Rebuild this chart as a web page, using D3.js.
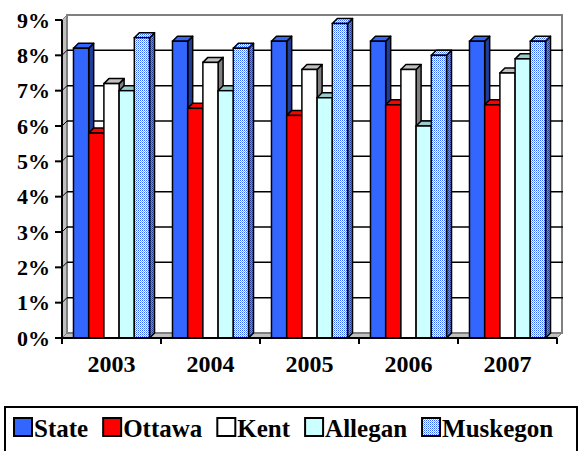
<!DOCTYPE html>
<html>
<head>
<meta charset="utf-8">
<script src="https://cdn.jsdelivr.net/npm/d3@7"></script>
<style>
  body { margin: 0; background: #fff; }
  svg { display: block; }
  text { font-family: 'Liberation Serif', 'Times New Roman', Times, 'DejaVu Serif', serif; font-weight: bold; }
</style>
</head>
<body>
<svg id="chart" width="580" height="451"></svg>
<script>
const years = ['2003', '2004', '2005', '2006', '2007'];
const seriesNames = ['State', 'Ottawa', 'Kent', 'Allegan', 'Muskegon'];
const state = [8.2, 8.4, 8.4, 8.4, 8.4];
const ottawa = [5.8, 6.5, 6.3, 6.6, 6.6];
const kent = [7.2, 7.8, 7.6, 7.6, 7.5];
const allegan = [7.0, 7.0, 6.8, 6.0, 7.9];
const muskegon = [8.5, 8.2, 8.9, 8.0, 8.4];
const yTicks = [0, 1, 2, 3, 4, 5, 6, 7, 8, 9];

const values = [state, ottawa, kent, allegan, muskegon];

// front / top / side fill per series
const looks = [
  { front: '#3366ff', top: '#3366ff', side: '#1f3d99' },
  { front: '#ff0000', top: '#ff0000', side: '#990000' },
  { front: '#ffffff', top: '#c0c0c0', side: '#808080' },
  { front: '#ccffff', top: '#99cccc', side: '#7a9999' },
  { front: 'url(#hatch)', top: 'url(#hatch)', side: 'url(#hatchDark)' }
];

const svg = d3.select('#chart');
const dx = 5, dy = 5; // 3d depth offset

const x0 = d3.scaleBand().domain(years).range([62, 557]);
const x1 = d3.scaleBand().domain(seriesNames).range([0, x0.bandwidth()]).paddingOuter(0.755);
const y = d3.scaleLinear().domain([0, 9]).range([338, 20]);

const defs = svg.append('defs');
const hatch = defs.append('pattern').attr('id', 'hatch').attr('patternUnits', 'userSpaceOnUse')
  .attr('width', 2).attr('height', 2);
hatch.append('rect').attr('width', 2).attr('height', 2).attr('fill', '#ffffff');
hatch.append('rect').attr('width', 1).attr('height', 1).attr('fill', '#3366ff');
hatch.append('rect').attr('x', 1).attr('y', 1).attr('width', 1).attr('height', 1).attr('fill', '#8aa6ff');
const hatchDark = defs.append('pattern').attr('id', 'hatchDark').attr('patternUnits', 'userSpaceOnUse')
  .attr('width', 2).attr('height', 2);
hatchDark.append('rect').attr('width', 2).attr('height', 2).attr('fill', '#8c8c9c');
hatchDark.append('rect').attr('width', 1).attr('height', 1).attr('fill', '#1f3d99');
hatchDark.append('rect').attr('x', 1).attr('y', 1).attr('width', 1).attr('height', 1).attr('fill', '#4a5a90');

svg.append('rect').attr('width', 580).attr('height', 451).attr('fill', '#fff');

const xLeft = x0.range()[0], xRight = x0.range()[1];
const yTop = y(9), base = y(0);

// floor
svg.append('polygon')
  .attr('points', [[xLeft, base], [xRight, base], [xRight + dx, base - dy], [xLeft + dx, base - dy]].join(' '))
  .attr('fill', '#c0c0c0').attr('stroke', '#808080').attr('stroke-width', 1);

// left side wall
svg.append('polygon')
  .attr('points', [[xLeft, base], [xLeft, yTop], [xLeft + dx, yTop - dy], [xLeft + dx, base - dy]].join(' '))
  .attr('fill', '#c0c0c0').attr('stroke', '#808080').attr('stroke-width', 1);

// back wall
svg.append('rect')
  .attr('x', xLeft + dx).attr('y', yTop - dy)
  .attr('width', xRight - xLeft).attr('height', base - yTop)
  .attr('fill', '#fff').attr('stroke', '#808080').attr('stroke-width', 2);

// gridlines
const grid = svg.append('g');
yTicks.filter(d => d > 0 && d < 9).forEach(d => {
  grid.append('line')
    .attr('x1', xLeft + dx).attr('x2', xRight + dx + 1)
    .attr('y1', y(d) - dy).attr('y2', y(d) - dy)
    .attr('stroke', '#000').attr('stroke-width', 1.5);
  grid.append('line')
    .attr('x1', xLeft).attr('x2', xLeft + dx)
    .attr('y1', y(d)).attr('y2', y(d) - dy)
    .attr('stroke', '#000').attr('stroke-width', 1);
});

// bars
const bars = svg.append('g');
years.forEach((yr, i) => {
  seriesNames.forEach((s, j) => {
    const v = values[j][i];
    const bx = x0(yr) + x1(s);
    const w = x1.bandwidth();
    const by = y(v);
    const look = looks[j];
    bars.append('polygon')
      .attr('points', [[bx + w, by], [bx + w + dx, by - dy], [bx + w + dx, base - dy], [bx + w, base]].join(' '))
      .attr('fill', look.side).attr('stroke', '#000').attr('stroke-width', 1.5).attr('stroke-linejoin', 'round');
    bars.append('polygon')
      .attr('points', [[bx, by], [bx + dx, by - dy], [bx + w + dx, by - dy], [bx + w, by]].join(' '))
      .attr('fill', look.top).attr('stroke', '#000').attr('stroke-width', 1.5).attr('stroke-linejoin', 'round');
    bars.append('rect')
      .attr('x', bx).attr('y', by).attr('width', w).attr('height', base - by)
      .attr('fill', look.front).attr('stroke', '#000').attr('stroke-width', 1.5);
  });
});

// axes
svg.append('line').attr('x1', xLeft).attr('x2', xLeft).attr('y1', yTop).attr('y2', base)
  .attr('stroke', '#000').attr('stroke-width', 2);
svg.append('line').attr('x1', xLeft).attr('x2', xRight).attr('y1', base).attr('y2', base)
  .attr('stroke', '#000').attr('stroke-width', 2);

const yAxis = svg.append('g');
yTicks.forEach(d => {
  yAxis.append('line').attr('x1', xLeft - 7).attr('x2', xLeft).attr('y1', y(d)).attr('y2', y(d))
    .attr('stroke', '#000').attr('stroke-width', 2);
  yAxis.append('text')
    .attr('x', 50).attr('y', y(d)).attr('dy', '0.35em')
    .attr('text-anchor', 'end')
    .attr('font-size', 22)
    .text(d + '%');
});

const xAxis = svg.append('g');
years.concat([null]).forEach(yr => {
  const xt = yr ? x0(yr) : xRight;
  xAxis.append('line').attr('x1', xt).attr('x2', xt).attr('y1', base).attr('y2', base + 6)
    .attr('stroke', '#000').attr('stroke-width', 2);
});
years.forEach(yr => {
  xAxis.append('text')
    .attr('x', x0(yr) + x0.bandwidth() / 2).attr('y', 372)
    .attr('text-anchor', 'middle')
    .attr('font-size', 24)
    .text(yr);
});

// legend
svg.append('rect').attr('x', 5).attr('y', 407).attr('width', 572).attr('height', 48)
  .attr('fill', '#fff').attr('stroke', '#000').attr('stroke-width', 2);
const legend = svg.append('g');
let lx = 14;
seriesNames.forEach((s, j) => {
  legend.append('rect').attr('x', lx).attr('y', 418).attr('width', 18).attr('height', 18)
    .attr('fill', looks[j].front).attr('stroke', '#000').attr('stroke-width', 2);
  const t = legend.append('text')
    .attr('x', lx + 20).attr('y', 437)
    .attr('font-size', 25)
    .text(s);
  lx += 20 + t.node().getComputedTextLength() + 15;
});
</script>
</body>
</html>
